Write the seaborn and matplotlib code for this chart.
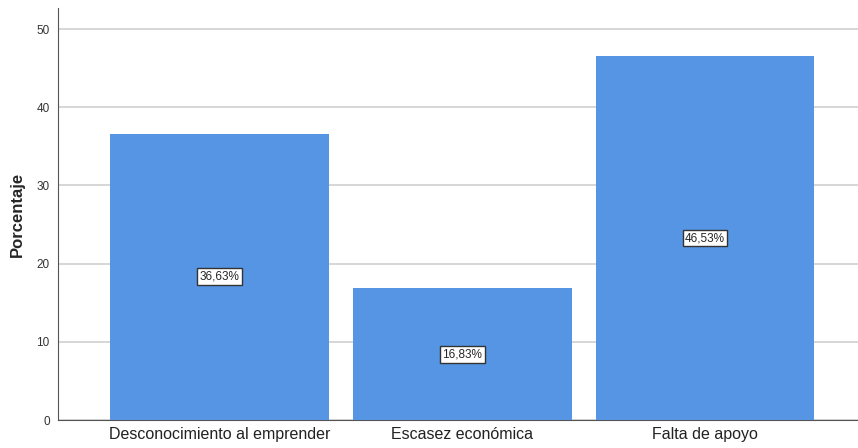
import matplotlib
matplotlib.use("Agg")
import matplotlib.pyplot as plt
import seaborn as sns
import pandas as pd

categories = ["Desconocimiento al emprender", "Escasez económica", "Falta de apoyo"]
values = [36.63, 16.83, 46.53]
labels = ["36,63%", "16,83%", "46,53%"]

sns.set_style("white")
plt.rcParams['font.family'] = ['Liberation Sans', 'DejaVu Sans']

df = pd.DataFrame({"cat": categories, "val": values})
fig = plt.figure(figsize=(8.58, 4.48), dpi=100)
ax = fig.add_axes([58/858, 28/448, 800/858, 412/448])
sns.barplot(data=df, x="cat", y="val", color="#5595E3", width=0.9, saturation=1,
            linewidth=0, ax=ax, zorder=3)
ax.set_xlim(-0.665, 2.63)
ax.set_ylim(0, 52.7)
ax.set_yticks([0, 10, 20, 30, 40, 50])
ax.yaxis.grid(True, color="#d0d0d0", linewidth=1.2, zorder=0)
ax.set_axisbelow(True)
for s in ["top", "right"]:
    ax.spines[s].set_visible(False)
ax.spines["left"].set_color("#555555")
ax.spines["bottom"].set_color("#555555")
ax.tick_params(axis="y", labelsize=8.5, length=0, pad=6, colors="#333333")
ax.tick_params(axis="x", labelsize=11.5, length=0, pad=5, colors="#222222")
ax.set_xlabel("")
ax.set_ylabel("Porcentaje", fontsize=12, fontweight="bold", labelpad=8)
for i, (v, t) in enumerate(zip(values, labels)):
    ax.text(i, v / 2, t, ha="center", va="center", fontsize=8.5, zorder=5,
            bbox=dict(boxstyle="square,pad=0.2", facecolor="white", edgecolor="#333333", linewidth=1))
fig.savefig("out.png", dpi=100)
